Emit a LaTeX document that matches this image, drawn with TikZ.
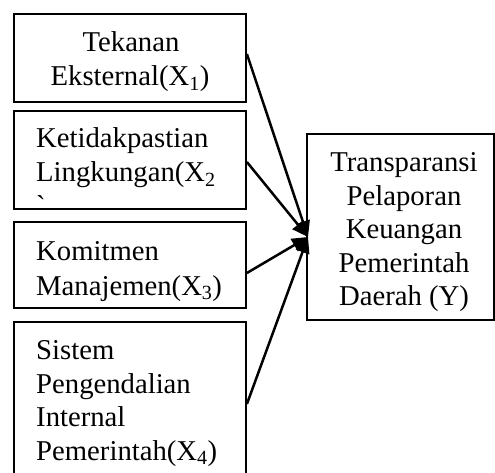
\documentclass[tikz,border=0pt]{standalone}
\usepackage{fontspec}
\setmainfont{Liberation Serif}
\newfontfamily\rawserif{Liberation Serif}[Ligatures=TeXOff]
\usetikzlibrary{arrows.meta,fit}
\tikzset{
  box/.style={draw=black, line width=1.8pt, inner sep=0pt},
  lbl/.style={inner sep=0pt, font=\fontsize{28.7}{33.5}\selectfont},
  lt/.style={lbl, anchor=base west},
  ct/.style={lbl, anchor=base},
  arr/.style={line width=2.5pt, -{Triangle[length=16pt,width=14pt]}}
}
\begin{document}
\begin{tikzpicture}[x=1pt,y=-1pt]
\useasboundingbox (0,0) rectangle (495,473);
\clip (0,0) rectangle (495,473);
\node[box, fit={(14,14) (246,102)}] (b1) {};
\node[box, fit={(14,111) (246,209)}] (b2) {};
\node[box, fit={(14,222) (246,308)}] (b3) {};
\node[box, fit={(14,322) (246,486)}] (b4) {};
\node[box, fit={(307,134) (494,320)}] (y) {};
% texts
\node[ct] (t1a) at (131,52) {Tekanan};
\node[ct] (t1b) at (130,86) {Eksternal(X\textsubscript{1})};
\node[lt] (t2a) at (36,148) {Ketidakpastian};
\node[lt] (t2b) at (36,182) {Lingkungan(X\textsubscript{2}};
\node[lt] (t2c) at (36,215.5) {\rawserif `};
\node[lt] (t3a) at (36,260) {Komitmen};
\node[lt] (t3b) at (36,295) {Manajemen(X\textsubscript{3})};
\node[lt] (t4a) at (36,359) {Sistem};
\node[lt] (t4b) at (36,393) {Pengendalian};
\node[lt] (t4c) at (36,426) {Internal};
\node[lt] (t4d) at (36,460) {Pemerintah(X\textsubscript{4})};
\node[ct] (tya) at (404,172) {Transparansi};
\node[ct] (tyb) at (404,205) {Pelaporan};
\node[ct] (tyc) at (404,238) {Keuangan};
\node[ct] (tyd) at (404,272) {Pemerintah};
\node[ct] (tye) at (404,305) {Daerah (Y)};
% arrows
\coordinate (tip) at (308,237);
\draw[arr] ([yshift=4pt]b1.east) -- (tip);
\draw[arr] ([yshift=-2pt]b2.east) -- (tip);
\draw[arr] ([yshift=-8pt]b3.east) -- (tip);
\draw[arr] (b4.east) -- (tip);
\end{tikzpicture}
\end{document}
